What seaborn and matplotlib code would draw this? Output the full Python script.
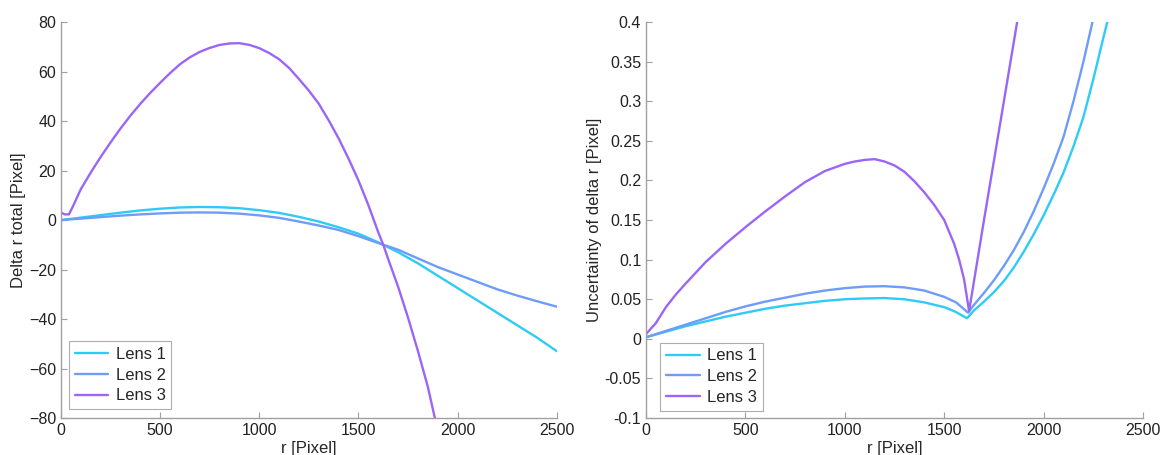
import numpy as np
import pandas as pd
import matplotlib
matplotlib.use("Agg")
import matplotlib.pyplot as plt
import seaborn as sns

# ---- Left panel: Delta r total [Pixel] ----
r1_left = [0, 100, 200, 300, 400, 500, 600, 700, 800, 900, 1000, 1100, 1200, 1300,
           1400, 1500, 1600, 1700, 1800, 1900, 2000, 2100, 2200, 2300, 2400, 2500]
lens1_left = [0, 1.0, 2.0, 3.0, 3.9, 4.6, 5.1, 5.3, 5.2, 4.8, 4.0, 2.9, 1.3, -0.6,
              -2.9, -5.5, -9.0, -13.0, -17.5, -22.5, -27.5, -32.5, -37.5, -42.5, -47.5, -53.0]
lens2_left = [0, 0.6, 1.2, 1.8, 2.3, 2.7, 3.0, 3.1, 3.0, 2.6, 1.9, 0.9, -0.6, -2.2,
              -4.0, -6.5, -9.3, -12.0, -15.5, -19.0, -22.0, -25.0, -28.0, -30.5, -32.8, -35.0]
r3_left = [0, 20, 40, 60, 100, 150, 200, 250, 300, 350, 400, 450, 500, 550, 600, 650,
           700, 750, 800, 850, 900, 950, 1000, 1050, 1100, 1150, 1200, 1250, 1300,
           1350, 1400, 1450, 1500, 1550, 1600, 1625, 1650, 1700, 1750, 1800, 1850,
           1885, 1950]
lens3_left = [3.0, 2.3, 2.3, 5.5, 12.5, 19.2, 25.5, 31.4, 37.0, 42.2, 47.0, 51.4, 55.5,
              59.4, 63.0, 65.8, 68.0, 69.6, 70.8, 71.4, 71.5, 70.8, 69.5, 67.5, 65.0,
              61.5, 57.0, 52.3, 47.0, 40.3, 33.0, 24.8, 16.0, 6.0, -5.0, -10.0, -15.8,
              -27.0, -39.5, -53.0, -67.5, -80.0, -100.0]

# ---- Right panel: Uncertainty of delta r [Pixel] ----
r1_right = [0, 100, 200, 300, 400, 500, 600, 700, 800, 900, 1000, 1100, 1200, 1300,
            1400, 1500, 1550, 1615, 1650, 1700, 1750, 1800, 1850, 1900, 1950, 2000,
            2050, 2100, 2150, 2200, 2250, 2300, 2350]
lens1_right = [0.002, 0.009, 0.016, 0.022, 0.028, 0.033, 0.038, 0.042, 0.045, 0.048,
               0.050, 0.051, 0.0515, 0.050, 0.046, 0.040, 0.035, 0.026, 0.036, 0.047,
               0.059, 0.073, 0.090, 0.110, 0.132, 0.156, 0.182, 0.210, 0.243, 0.280,
               0.328, 0.380, 0.430]
r2_right = [0, 100, 200, 300, 400, 500, 600, 700, 800, 900, 1000, 1100, 1200, 1300,
            1400, 1500, 1560, 1620, 1650, 1700, 1750, 1800, 1850, 1900, 1950, 2000,
            2050, 2100, 2150, 2200, 2250, 2280]
lens2_right = [0.002, 0.010, 0.018, 0.026, 0.034, 0.041, 0.047, 0.052, 0.057, 0.061,
               0.064, 0.066, 0.0665, 0.065, 0.061, 0.053, 0.046, 0.033, 0.043, 0.058,
               0.074, 0.092, 0.112, 0.135, 0.161, 0.190, 0.221, 0.255, 0.300, 0.350,
               0.405, 0.440]
r3_right = [0, 50, 100, 150, 200, 300, 400, 500, 600, 700, 800, 900, 1000, 1050, 1100,
            1150, 1200, 1250, 1300, 1350, 1400, 1450, 1500, 1550, 1575, 1600, 1625,
            1700, 1750, 1800, 1870, 1900]
lens3_right = [0.006, 0.020, 0.040, 0.056, 0.070, 0.097, 0.120, 0.141, 0.161, 0.180,
               0.198, 0.212, 0.221, 0.224, 0.226, 0.227, 0.224, 0.219, 0.211, 0.199,
               0.185, 0.169, 0.150, 0.120, 0.100, 0.075, 0.035, 0.150, 0.225, 0.300,
               0.405, 0.450]

labels = ["Lens 1", "Lens 2", "Lens 3"]
colors = ["#2ecbf7", "#6e9cf8", "#9b66f6"]

def long_df(rs, vals):
    frames = []
    for lab, r, v in zip(labels, rs, vals):
        frames.append(pd.DataFrame({"r": r, "v": v, "Lens": lab}))
    return pd.concat(frames, ignore_index=True)

df_left = long_df([r1_left, r1_left, r3_left], [lens1_left, lens2_left, lens3_left])
df_right = long_df([r1_right, r2_right, r3_right], [lens1_right, lens2_right, lens3_right])

sns.set_style("white")
plt.rcParams["font.family"] = ["Liberation Sans", "DejaVu Sans"]
plt.rcParams["font.size"] = 10

fig = plt.figure(figsize=(11.75, 4.55), dpi=100)
ax1 = fig.add_axes([0.0519, 0.0813, 0.422, 0.870])
ax2 = fig.add_axes([0.5498, 0.0813, 0.423, 0.870])

pal = dict(zip(labels, colors))
for ax, df in ((ax1, df_left), (ax2, df_right)):
    sns.lineplot(data=df, x="r", y="v", hue="Lens", palette=pal, estimator=None,
                 sort=False, linewidth=1.7, ax=ax)

ax1.set_xlim(0, 2500)
ax1.set_ylim(-80, 80)
ax1.set_yticks(np.arange(-80, 81, 20))
ax1.set_ylabel("Delta r total [Pixel]", fontsize=12, labelpad=2)

ax2.set_xlim(0, 2500)
ax2.set_ylim(-0.1, 0.4)
ax2.set_yticks([-0.1, -0.05, 0, 0.05, 0.1, 0.15, 0.2, 0.25, 0.3, 0.35, 0.4])
ax2.set_yticklabels(["-0.1", "-0.05", "0", "0.05", "0.1", "0.15", "0.2", "0.25",
                     "0.3", "0.35", "0.4"])
ax2.set_ylabel("Uncertainty of delta r [Pixel]", fontsize=12, labelpad=2)

legend_anchor = {ax1: (0.016, 0.022), ax2: (0.029, 0.018)}
for ax in (ax1, ax2):
    ax.set_xticks(np.arange(0, 2501, 500))
    ax.set_xlabel("r [Pixel]", fontsize=12, labelpad=2)
    for s in ("top", "right"):
        ax.spines[s].set_visible(False)
    for s in ("left", "bottom"):
        ax.spines[s].set_color("#a0a0a0")
        ax.spines[s].set_linewidth(1.0)
    ax.tick_params(direction="in", length=4, width=0.8, color="#a0a0a0",
                   labelsize=11.5, labelcolor="#222222", left=True, bottom=True)
    leg = ax.legend(loc="lower left", bbox_to_anchor=legend_anchor[ax], borderaxespad=0,
                    frameon=True, fancybox=False, fontsize=12,
                    handlelength=2.0, labelspacing=0.35,
                    borderpad=0.35, handletextpad=0.45)
    leg.get_frame().set_edgecolor("#999999")
    leg.get_frame().set_linewidth(0.8)
    leg.set_title(None)

fig.savefig("out.png", dpi=100)
